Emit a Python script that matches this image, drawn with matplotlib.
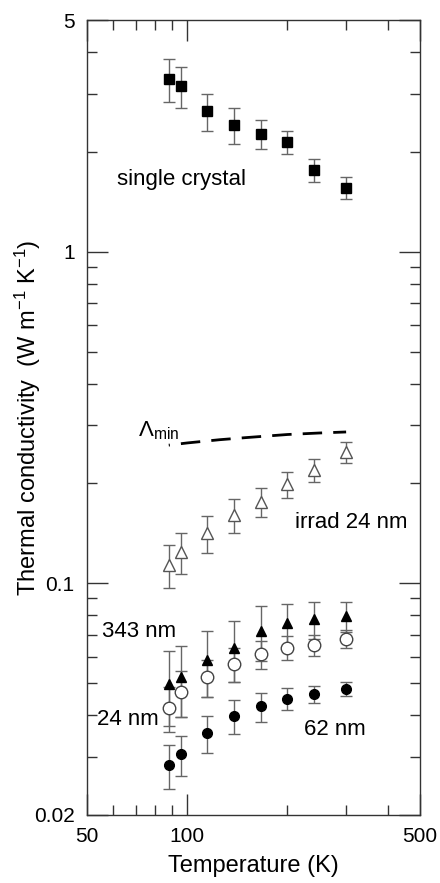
'''
Thermal conductivity vs temperature, log-log, several samples
'''

import matplotlib
matplotlib.use("Agg")
import matplotlib.pyplot as plt
from matplotlib.ticker import FixedLocator, NullFormatter, FixedFormatter

plt.rcParams['font.family'] = ['Liberation Sans', 'DejaVu Sans']
plt.rcParams['mathtext.fontset'] = 'custom'
plt.rcParams['mathtext.rm'] = 'Liberation Sans'
plt.rcParams['mathtext.it'] = 'Liberation Sans:italic'

# -------- data ----------
temps = [88, 96, 115, 138, 166, 200, 240, 300]

single_crystal = [3.32, 3.17, 2.66, 2.41, 2.27, 2.14, 1.76, 1.56]
single_err = [0.50, 0.45, 0.34, 0.30, 0.23, 0.17, 0.14, 0.12]

irrad_24 = [0.1135, 0.124, 0.1415, 0.161, 0.176, 0.199, 0.2195, 0.249]
irrad_err = [0.017, 0.0175, 0.018, 0.019, 0.0175, 0.018, 0.0175, 0.018]

film_343 = [0.0497, 0.052, 0.0587, 0.0636, 0.0718, 0.0757, 0.0778, 0.0796]
film_343_err = [0.0127, 0.0125, 0.0133, 0.0132, 0.0136, 0.011, 0.0097, 0.0084]

film_24 = [0.042, 0.047, 0.052, 0.0569, 0.061, 0.0639, 0.0651, 0.068]
film_24_err = [0.0065, 0.0074, 0.0067, 0.0067, 0.006, 0.0052, 0.0047, 0.0042]

film_62 = [0.0283, 0.0305, 0.0353, 0.0398, 0.0425, 0.0449, 0.0462, 0.048]
film_62_err = [0.0043, 0.0042, 0.0046, 0.0047, 0.0043, 0.0033, 0.0028, 0.0024]

lam_T = [88, 100, 125, 150, 200, 250, 300]
lam_min = [0.261, 0.265, 0.271, 0.275, 0.281, 0.284, 0.286]

# -------- plot ----------
fig = plt.figure(figsize=(4.4, 8.83), dpi=100)
ax = fig.add_axes([87/440, 68/883, 333/440, 795/883])

ebar = dict(ecolor='#666666', elinewidth=1.0, capsize=4, capthick=1.0, linestyle='none')

ax.errorbar(temps, single_crystal, yerr=single_err, marker='s', ms=6.5,
            mfc='black', mec='black', **ebar)
ax.errorbar(temps, irrad_24, yerr=irrad_err, marker='^', ms=8,
            mfc='white', mec='#555555', mew=1.0, **ebar)
ax.errorbar(temps, film_24, yerr=film_24_err, marker='o', ms=9,
            mfc='white', mec='#444444', mew=1.0, **ebar)
ax.errorbar(temps, film_343, yerr=film_343_err, marker='^', ms=7.5,
            mfc='black', mec='black', **ebar)
ax.errorbar(temps, film_62, yerr=film_62_err, marker='o', ms=7,
            mfc='black', mec='black', **ebar)

# minimum conductivity, dashed; offset so it starts with a dot like the original
ax.plot(lam_T, lam_min, color='black', lw=2.0, linestyle=(6.6, (7, 4)))

ax.set_xscale('log')
ax.set_yscale('log')
ax.set_xlim(50, 500)
ax.set_ylim(0.02, 5)

ax.xaxis.set_major_locator(FixedLocator([50, 100, 500]))
ax.xaxis.set_major_formatter(FixedFormatter(['50', '100', '500']))
ax.xaxis.set_minor_locator(FixedLocator([60, 70, 80, 90, 200, 300, 400]))
ax.xaxis.set_minor_formatter(NullFormatter())

ax.yaxis.set_major_locator(FixedLocator([0.02, 0.1, 1, 5]))
ax.yaxis.set_major_formatter(FixedFormatter(['0.02', '0.1', '1', '5']))
ax.yaxis.set_minor_locator(FixedLocator([0.03, 0.04, 0.05, 0.06, 0.07, 0.08, 0.09,
                                         0.2, 0.3, 0.4, 0.5, 0.6, 0.7, 0.8, 0.9,
                                         2, 3, 4]))
ax.yaxis.set_minor_formatter(NullFormatter())

ax.tick_params(which='both', direction='in', top=True, right=True,
               color='#333333', labelsize=15, pad=9)
ax.tick_params(which='major', length=15, width=1.0)
ax.tick_params(which='minor', length=7, width=1.0)
for s in ax.spines.values():
    s.set_color('#333333')
    s.set_linewidth(1.0)

ax.set_xlabel('Temperature (K)', fontsize=17, labelpad=6)
ax.set_ylabel(r'Thermal conductivity  (W m$^{\mathregular{-1}}$ K$^{\mathregular{-1}}$)',
              fontsize=17, va='center')
ax.yaxis.set_label_coords(-0.177, 0.5)

txt = dict(fontsize=16, va='center', ha='left')
ax.text(61.5, 1.65, 'single crystal', **txt)
ax.text(210, 0.152, 'irrad 24 nm', **txt)
ax.text(55.5, 0.0713, '343 nm', **txt)
ax.text(53.6, 0.0389, '24 nm', **txt)
ax.text(224, 0.0362, '62 nm', **txt)
ax.text(71, 0.288, r'$\Lambda_{\mathregular{min}}$', fontsize=16, va='center', ha='left')

fig.savefig('out.png', dpi=100)
